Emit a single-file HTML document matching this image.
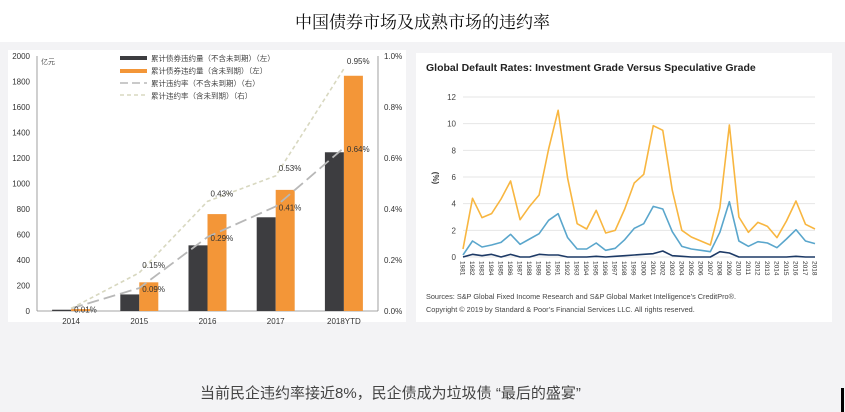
<!DOCTYPE html>
<html><head><meta charset="utf-8">
<style>
html,body{margin:0;padding:0;}
body{width:845px;height:412px;position:relative;background:#f3f3f5;overflow:hidden;font-family:"Liberation Sans","Noto Sans CJK SC",sans-serif;}
#top{position:absolute;left:0;top:0;width:845px;height:42px;background:#fff;}
#title{position:absolute;left:0;top:8px;width:845px;text-align:center;font-family:"Liberation Serif","Noto Serif CJK SC",serif;font-size:17px;color:#111;}
#caption{position:absolute;left:200px;top:382px;font-size:15px;color:#444;}
#bar{position:absolute;left:841px;top:388px;width:3px;height:24px;background:#000;}
svg{position:absolute;left:0;top:0;}
</style></head><body>
<div id="top"></div>
<div id="title">中国债券市场及成熟市场的违约率</div>
<svg id="chart" width="845" height="412"></svg>
<div id="caption">当前民企违约率接近8%，民企债成为垃圾债 “最后的盛宴”</div>
<div id="bar"></div>
<script>
const cats=["2014","2015","2016","2017","2018YTD"];
const darkVals=[10,130,515,735,1245];
const orangeVals=[15,225,760,950,1845];
const rateEx=[0.01,0.09,0.29,0.41,0.64];
const rateIn=[0.01,0.15,0.43,0.53,0.95];
const leftTicks=[0,200,400,600,800,1000,1200,1400,1600,1800,2000];
const rightTicks=[0,0.2,0.4,0.6,0.8,1.0];
const years=[];for(let y=1981;y<=2018;y++)years.push(String(y));
const specVals=[0.6,4.4,2.95,3.25,4.35,5.7,2.8,3.8,4.65,8.1,11.0,5.9,2.5,2.1,3.5,1.8,2.0,3.6,5.55,6.2,9.85,9.5,5.0,2.0,1.5,1.2,0.9,3.7,9.9,3.0,1.85,2.6,2.3,1.45,2.7,4.2,2.45,2.1];
const allVals=[0.15,1.2,0.75,0.9,1.1,1.7,0.95,1.35,1.75,2.75,3.25,1.45,0.6,0.6,1.05,0.5,0.65,1.3,2.15,2.5,3.8,3.6,1.9,0.8,0.6,0.5,0.4,1.85,4.15,1.2,0.8,1.15,1.05,0.7,1.35,2.05,1.2,1.0];
const igVals=[0,0.2,0.1,0.2,0,0.2,0,0,0.2,0.15,0.15,0,0,0,0.05,0,0.05,0.1,0.15,0.2,0.25,0.45,0.1,0.05,0,0,0,0.4,0.3,0,0,0,0,0,0,0.05,0,0];
const yTicks2=[0,2,4,6,8,10,12];

const svg=document.getElementById('chart');
const NS="http://www.w3.org/2000/svg";
function mk(tag,attrs,parent){const e=document.createElementNS(NS,tag);for(const k in attrs)e.setAttribute(k,attrs[k]);(parent||svg).appendChild(e);return e;}
function txt(s,attrs,parent){const e=mk('text',attrs,parent);e.textContent=s;return e;}

// ---------- Left chart ----------
const L=mk('g',{});


const lp=mk('rect',{x:8,y:50,width:398,height:272,fill:'#fff'},L);


const x0=37,x1=378,yb=311,yt=56;
const yL=v=>yb-(v/2000)*(yb-yt);
const yR=v=>yb-(v/1.0)*(yb-yt);
const step=(x1-x0)/5;
const xC=i=>x0+step*(i+0.5);
mk('line',{x1:x0,y1:yt,x2:x0,y2:yb,stroke:'#888','stroke-width':0.8},L);
mk('line',{x1:x1,y1:yt,x2:x1,y2:yb,stroke:'#888','stroke-width':0.8},L);
mk('line',{x1:x0,y1:yb,x2:x1,y2:yb,stroke:'#888','stroke-width':0.8},L);
leftTicks.forEach(t=>{const e=txt(String(t),{x:30,y:yL(t)+3,'font-size':8,'text-anchor':'end',fill:'#333'},L);
});
rightTicks.forEach(t=>{const e=txt(t.toFixed(1)+'%',{x:384,y:yR(t)+3,'font-size':8,fill:'#333'},L);
});
txt('亿元',{x:41,y:64,'font-size':7,fill:'#555'},L);
cats.forEach((c,i)=>{const e=txt(c,{x:xC(i),y:324,'font-size':8,'text-anchor':'middle',fill:'#333'},L);
});
const bw=19;
darkVals.forEach((v,i)=>{const r=mk('rect',{x:xC(i)-bw,y:yL(v),width:bw,height:yb-yL(v),fill:'#3d3d40'},L);
});
orangeVals.forEach((v,i)=>{const r=mk('rect',{x:xC(i),y:yL(v),width:bw,height:yb-yL(v),fill:'#f39638'},L);
});
const pEx=rateEx.map((v,i)=>xC(i)+','+yR(v)).join(' ');
const pIn=rateIn.map((v,i)=>xC(i)+','+yR(v)).join(' ');
const l1=mk('polyline',{points:pEx,fill:'none',stroke:'#b8b8b8','stroke-width':1.8,'stroke-dasharray':'12,5'},L);

const l2=mk('polyline',{points:pIn,fill:'none',stroke:'#d8d8c0','stroke-width':1.6,'stroke-dasharray':'4,3'},L);

rateEx.forEach((v,i)=>{const e=txt(v.toFixed(2)+'%',{x:xC(i)+3,y:yR(v)+4,'font-size':8,fill:'#333'},L);
});
rateIn.forEach((v,i)=>{if(i===0)return;const e=txt(v.toFixed(2)+'%',{x:xC(i)+3,y:yR(v)-5,'font-size':8,fill:'#333'},L);
});
// legend
const lg=mk('g',{},L);

mk('rect',{x:120,y:56,width:27,height:4,fill:'#3d3d40'},lg);
mk('rect',{x:120,y:69,width:27,height:4,fill:'#f39638'},lg);
mk('line',{x1:120,y1:83,x2:147,y2:83,stroke:'#b8b8b8','stroke-width':1.5,'stroke-dasharray':'8,4'},lg);
mk('line',{x1:120,y1:95,x2:147,y2:95,stroke:'#d8d8c0','stroke-width':1.5,'stroke-dasharray':'4,3'},lg);
['累计债券违约量（不含未到期）（左）','累计债券违约量（含未到期）（左）','累计违约率（不含未到期）（右）','累计违约率（含未到期）（右）'].forEach((s,i)=>{
 txt(s,{x:151,y:61+i*12.5,'font-size':7.5,fill:'#444'},lg);});

// ---------- Right chart ----------
const R=mk('g',{});

const rp=mk('rect',{x:416,y:53,width:416,height:269,fill:'#fff'},R);

const t=txt('Global Default Rates: Investment Grade Versus Speculative Grade',{x:426,y:71,'font-size':10.5,'font-weight':'bold',fill:'#222'},R);

const gx0=463,gx1=815,gyb=257,gyt=97;
const Y2=v=>gyb-(v/12)*(gyb-gyt);
const X2=i=>gx0+(gx1-gx0)*i/(years.length-1);
yTicks2.forEach(v=>{mk('line',{x1:gx0,y1:Y2(v),x2:gx1,y2:Y2(v),stroke:'#e6e6e6','stroke-width':1},R);
 const e=txt(String(v),{x:456,y:Y2(v)+3,'font-size':8,'text-anchor':'end',fill:'#444'},R);
 });
const yl=txt('(%)',{x:0,y:0,'font-size':8,'font-weight':'bold',fill:'#333',transform:'translate(433,178) rotate(90)','text-anchor':'middle'},R);

years.forEach((y,i)=>{const e=txt(y,{x:0,y:0,'font-size':6.5,fill:'#333',transform:`translate(${X2(i)-2.5},261) rotate(90)`},R);
 });
function series(vals,color,name){const p=mk('polyline',{points:vals.map((v,i)=>X2(i)+','+Y2(v)).join(' '),fill:'none',stroke:color,'stroke-width':1.6,'stroke-linejoin':'round'},R);
 }
series(specVals,'#f8b640','line-speculative-grade');
series(allVals,'#5aa6cc','line-all-rated');
series(igVals,'#1d3a66','line-investment-grade');
txt('Sources: S&P Global Fixed Income Research and S&P Global Market Intelligence\u2019s CreditPro\u00ae.',{x:426,y:299,'font-size':7.3,fill:'#444'},R);
txt('Copyright \u00a9 2019 by Standard & Poor\u2019s Financial Services LLC. All rights reserved.',{x:426,y:312,'font-size':7.3,fill:'#444'},R);
</script>
</body></html>
